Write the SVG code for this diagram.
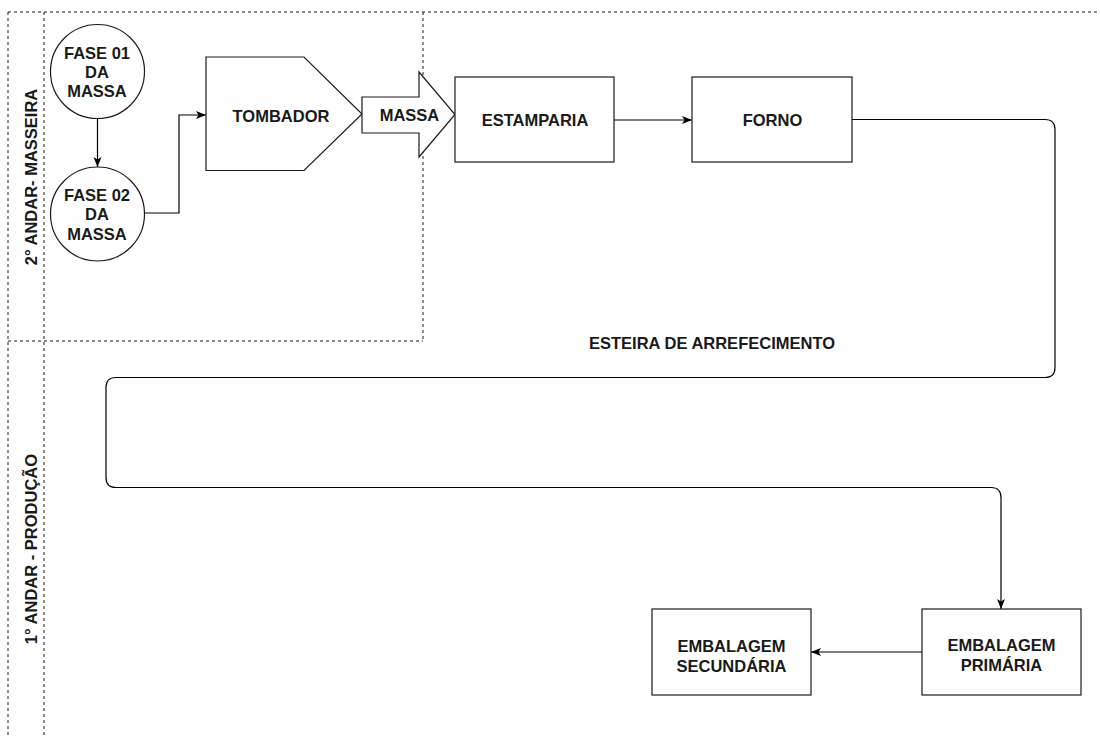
<svg xmlns="http://www.w3.org/2000/svg" width="1100" height="738" viewBox="0 0 1100 738">
<defs>
<style>
.lane{fill:none;stroke:#1a1a1a;stroke-width:1;stroke-dasharray:3 3}
.shape{fill:#fff;stroke:#1a1a1a;stroke-width:1.2}
.edge{fill:none;stroke:#000;stroke-width:1.2}
.t{font-family:"Liberation Sans",Arial,Helvetica,sans-serif;font-weight:bold;font-size:16.5px;fill:#1a1a1a;text-anchor:middle}
</style>
<marker id="ah" viewBox="0 0 10 10" refX="10" refY="5" markerWidth="10" markerHeight="10" markerUnits="userSpaceOnUse" orient="auto">
<path d="M0,1 L10,5 L0,9 L2.5,5 Z" fill="#000"/>
</marker>
</defs>
<rect width="1100" height="738" fill="#fff"/>

<g id="lanes">
<line class="lane" x1="8" y1="12" x2="1100" y2="12"/>
<line class="lane" x1="8" y1="12" x2="8" y2="738"/>
<line class="lane" x1="44" y1="12" x2="44" y2="738"/>
<line class="lane" x1="8" y1="341" x2="423" y2="341"/>
<line class="lane" x1="423" y1="12" x2="423" y2="341"/>
<text class="t" transform="translate(36.5,177) rotate(-90)">2° ANDAR- MASSEIRA</text>
<text class="t" transform="translate(36.5,549) rotate(-90)">1° ANDAR - PRODUÇÃO</text>
</g>

<g id="connectors">
<line class="edge" x1="97.5" y1="118.5" x2="97.5" y2="167" marker-end="url(#ah)"/>
<polyline class="edge" points="144.5,213 179,213 179,115 206,115" marker-end="url(#ah)"/>
<line class="edge" x1="614" y1="120" x2="692" y2="120" marker-end="url(#ah)"/>
<path class="edge" d="M852,119.5 H1045 Q1055,119.5 1055,129.5 V367.5 Q1055,377.5 1045,377.5 H116 Q106,377.5 106,387.5 V477.5 Q106,487.5 116,487.5 H991 Q1001,487.5 1001,497.5 V609" marker-end="url(#ah)"/>
<line class="edge" x1="922" y1="652" x2="811" y2="652" marker-end="url(#ah)"/>
<text class="t" x="712" y="349">ESTEIRA DE ARREFECIMENTO</text>
</g>

<g id="fase01">
<circle class="shape" cx="97.5" cy="71.5" r="47"/>
<text class="t" x="97" y="59">FASE 01</text>
<text class="t" x="97" y="78">DA</text>
<text class="t" x="97" y="97">MASSA</text>
</g>

<g id="fase02">
<circle class="shape" cx="97.5" cy="214" r="47"/>
<text class="t" x="97" y="200.5">FASE 02</text>
<text class="t" x="97" y="220">DA</text>
<text class="t" x="97" y="239.5">MASSA</text>
</g>

<g id="tombador">
<polygon class="shape" points="206,57 304,57 362,114 304,170.5 206,170.5"/>
<text class="t" x="281" y="121.5">TOMBADOR</text>
</g>

<g id="massa">
<polygon class="shape" points="362,97 419,97 419,72 455,114.5 419,157 419,133 362,133"/>
<text class="t" x="409.5" y="121">MASSA</text>
</g>

<g id="estamparia">
<rect class="shape" x="455" y="77" width="159" height="85"/>
<text class="t" x="535" y="126">ESTAMPARIA</text>
</g>

<g id="forno">
<rect class="shape" x="692" y="77" width="160" height="85"/>
<text class="t" x="772.5" y="126">FORNO</text>
</g>

<g id="embalagem-primaria">
<rect class="shape" x="922" y="609" width="159" height="86"/>
<text class="t" x="1001.5" y="651">EMBALAGEM</text>
<text class="t" x="1001.5" y="671">PRIMÁRIA</text>
</g>

<g id="embalagem-secundaria">
<rect class="shape" x="652" y="609" width="159" height="86"/>
<text class="t" x="731.5" y="651.5">EMBALAGEM</text>
<text class="t" x="731.5" y="671.5">SECUNDÁRIA</text>
</g>
</svg>
